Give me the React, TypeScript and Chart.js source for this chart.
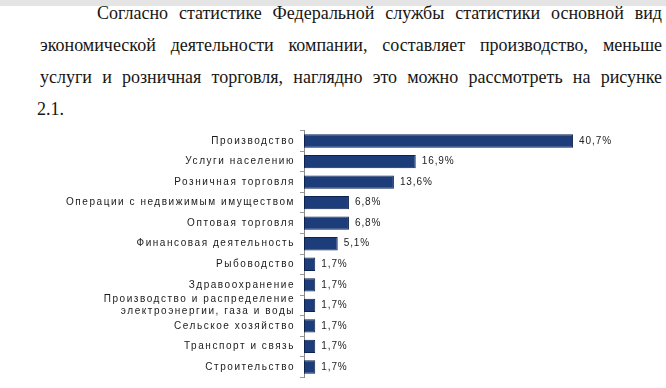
import React, { useEffect, useRef } from 'react';
import { Chart, registerables } from 'chart.js';

Chart.register(...registerables);

const paragraphLines = [
  'Согласно статистике Федеральной службы статистики основной вид',
  'экономической деятельности компании, составляет производство, меньше',
  'услуги и розничная торговля,  наглядно это можно рассмотреть на рисунке',
  '2.1.',
];

const categories: (string | string[])[] = [
  'Производство',
  'Услуги населению',
  'Розничная торговля',
  'Операции с недвижимым имуществом',
  'Оптовая торговля',
  'Финансовая деятельность',
  'Рыбоводство',
  'Здравоохранение',
  ['Производство и распределение', 'электроэнергии, газа и воды'],
  'Сельское хозяйство',
  'Транспорт и связь',
  'Строительство',
];

const values = [40.7, 16.9, 13.6, 6.8, 6.8, 5.1, 1.7, 1.7, 1.7, 1.7, 1.7, 1.7];

const valueLabels = ['40,7%', '16,9%', '13,6%', '6,8%', '6,8%', '5,1%', '1,7%', '1,7%', '1,7%', '1,7%', '1,7%', '1,7%'];

const AXIS_LEFT = 304;

const spacingPlugin = {
  id: 'spacing',
  beforeDraw(chart: any) {
    (chart.ctx as any).letterSpacing = '1.55px';
  },
};

const valueLabelPlugin = {
  id: 'valueLabels',
  afterDatasetsDraw(chart: any) {
    const ctx = chart.ctx;
    const meta = chart.getDatasetMeta(0);
    ctx.save();
    (ctx as any).letterSpacing = '0.9px';
    ctx.font = '10px "Liberation Sans", Arial, sans-serif';
    ctx.fillStyle = '#222';
    ctx.textAlign = 'left';
    ctx.textBaseline = 'middle';
    meta.data.forEach((bar: any, i: number) => {
      ctx.fillText(valueLabels[i], bar.x + 6, bar.y);
    });
    ctx.restore();
  },
};

export default function App() {
  const canvasRef = useRef<HTMLCanvasElement | null>(null);

  useEffect(() => {
    if (!canvasRef.current) return;
    const chart = new Chart(canvasRef.current, {
      type: 'bar',
      data: {
        labels: categories as any,
        datasets: [
          {
            data: values,
            backgroundColor: '#1d3d7a',
            borderColor: '#0e2250',
            borderWidth: 1,
            borderSkipped: false,
            barPercentage: 0.65,
            categoryPercentage: 1,
          },
        ],
      },
      options: {
        indexAxis: 'y',
        animation: false,
        responsive: false,
        events: [],
        layout: { padding: { left: 0, right: 64.5, top: 8.5, bottom: 5 } },
        plugins: {
          legend: { display: false },
          tooltip: { enabled: false },
          title: { display: false },
        },
        scales: {
          x: {
            display: false,
            min: 0,
            max: 45,
          },
          y: {
            afterFit: (scale: any) => {
              scale.width = AXIS_LEFT;
            },
            grid: {
              display: true,
              drawOnChartArea: false,
              drawTicks: true,
              tickLength: 4,
              offset: true,
              color: '#9a9a9a',
            },
            border: { display: true, color: '#8a8a8a', width: 1 },
            ticks: {
              autoSkip: false,
              padding: 5,
              color: '#1a1a1a',
              font: { family: '"Liberation Sans", Arial, sans-serif', size: 10, lineHeight: 1.15 },
            },
          },
        },
      },
      plugins: [spacingPlugin, valueLabelPlugin],
    });
    return () => chart.destroy();
  }, []);

  const lineTop = (i: number) => -3.5 + 32.2 * i;
  const textStyle: React.CSSProperties = {
    position: 'absolute',
    fontFamily: 'Liberation Serif',
    fontSize: 18,
    lineHeight: '32px',
    color: '#161616',
    textAlign: 'justify',
    textAlignLast: 'justify' as any,
  };

  return (
    <div style={{ position: 'fixed', left: 0, top: 0, width: 666, height: 388, background: '#ffffff', overflow: 'hidden' }}>
      <div style={{ position: 'absolute', left: 0, top: 0, width: 666, height: 6, background: '#e4e4e4' }} />
      <div style={{ ...textStyle, left: 97, width: 565, top: lineTop(0) }}>{paragraphLines[0]}</div>
      <div style={{ ...textStyle, left: 40, width: 622, top: lineTop(1) }}>{paragraphLines[1]}</div>
      <div style={{ ...textStyle, left: 40, width: 622, top: lineTop(2) }}>{paragraphLines[2]}</div>
      <div style={{ ...textStyle, left: 37, width: 200, top: lineTop(3), textAlign: 'left', textAlignLast: 'left' as any }}>{paragraphLines[3]}</div>
      <canvas ref={canvasRef} width={666} height={268} style={{ position: 'absolute', left: 0, top: 120, width: 666, height: 268 }} />
    </div>
  );
}
